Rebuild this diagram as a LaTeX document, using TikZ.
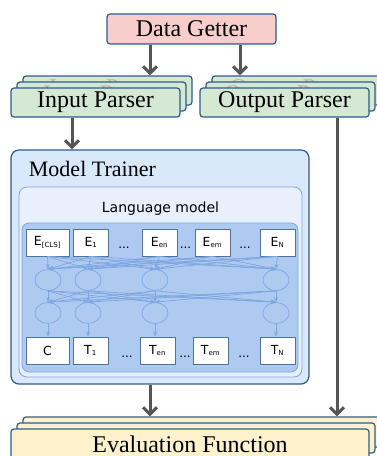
\documentclass[tikz,border=0pt]{standalone}
\usepackage{fontspec}
\setmainfont{Liberation Serif}
\setsansfont{DejaVu Sans}
\usepackage{tikz}
\usetikzlibrary{shapes.geometric,arrows.meta}
\definecolor{edgeblue}{HTML}{2E5C8A}
\definecolor{getterpink}{HTML}{F8CECC}
\definecolor{parsergreen}{HTML}{D5E8D4}
\definecolor{evalyellow}{HTML}{FFF2CC}
\definecolor{trainerblue}{HTML}{DAE8FC}
\definecolor{lmblue}{HTML}{E8F0FD}
\definecolor{innerblue}{HTML}{AFCAF0}
\definecolor{unitblue}{HTML}{7EA6E0}
\definecolor{arrowgray}{HTML}{555555}
\tikzstyle{block} = [rectangle, rounded corners=3pt, draw=edgeblue, line width=1.2pt, minimum height=29pt, inner sep=0pt, font=\fontsize{24}{26}\selectfont]
\tikzstyle{parser} = [block, fill=parsergreen, minimum width=169pt]
\tikzstyle{evalbox} = [block, fill=evalyellow, minimum width=358pt, minimum height=30pt]
\tikzstyle{shadowpage} = [text=black!30]
\tikzstyle{token} = [rectangle, draw=edgeblue!85, fill=white, line width=0.8pt, minimum width=35pt, minimum height=27pt, inner sep=0pt, font=\sffamily\fontsize{12.5}{14}\selectfont]
\tikzstyle{unit} = [ellipse, draw=unitblue, fill=innerblue, line width=0.7pt, minimum width=26pt, minimum height=21pt, inner sep=0pt]
\tikzstyle{dots} = [font=\sffamily\fontsize{12}{14}\selectfont]
\tikzstyle{bigarrow} = [draw=arrowgray, line width=3pt, -{Straight Barb[length=7pt,width=14pt]}]
\tikzstyle{link} = [draw=unitblue, line width=0.7pt, -{Stealth[length=5pt,width=4pt]}]

\begin{document}
\begin{tikzpicture}[x=1pt,y=-1pt]
  \useasboundingbox (0,0) rectangle (377,456);

  \node[block, fill=getterpink, minimum width=169pt, minimum height=30pt] (getter) at (191.5,29) {Data Getter};

  % parsers, back pages first
  \node[parser, shadowpage] (input_b2) at (107.5,90.5) {Input Parser};
  \node[parser, shadowpage] (input_b1) at (101.5,96.5) {Input Parser};
  \node[parser] (input) at (95.5,102.5) {Input Parser};
  \node[parser, shadowpage] (output_b2) at (296.5,90.5) {Output Parser};
  \node[parser, shadowpage] (output_b1) at (290.5,96.5) {Output Parser};
  \node[parser] (output) at (284.5,102.5) {Output Parser};

  % trainer and language model
  \node[rectangle, rounded corners=8pt, draw=edgeblue, fill=trainerblue, line width=1.2pt, minimum width=298pt, minimum height=234pt] (trainer) at (160,267) {};
  \node[anchor=west, font=\fontsize{22}{24}\selectfont] (trainer_label) at ([xshift=15pt,yshift=-20pt]trainer.north west) {Model Trainer};
  \node[rectangle, rounded corners=8pt, draw=unitblue, fill=lmblue, line width=0.8pt, minimum width=283pt, minimum height=190pt] (lm) at (160.5,282) {};
  \node[font=\sffamily\fontsize{14}{16}\selectfont] (lm_label) at (160.5,209) {Language model};
  \node[rectangle, rounded corners=7pt, draw=unitblue, fill=innerblue, line width=0.8pt, minimum width=276pt, minimum height=149pt] (bert) at (160,297.5) {};

  % input embeddings
  \node[token, minimum width=43pt] (E_cls) at (47.5,242.5) {E\textsubscript{\fontsize{7}{8}\selectfont[CLS]}};
  \node[token] (E_1) at (91,242.5) {E\textsubscript{\fontsize{7}{8}\selectfont 1}};
  \node[token] (E_en) at (159.5,242.5) {E\textsubscript{\fontsize{7}{8}\selectfont en}};
  \node[token] (E_em) at (212.5,242.5) {E\textsubscript{\fontsize{7}{8}\selectfont em}};
  \node[token] (E_N) at (277.5,242.5) {E\textsubscript{\fontsize{7}{8}\selectfont N}};
  \node[dots] (dE_1) at (124,248) {...};
  \node[dots] (dE_2) at (185.5,248) {...};
  \node[dots] (dE_3) at (245,248) {...};

  % hidden units
  \node[unit] (h1_a) at (48,280) {};
  \node[unit] (h1_b) at (88,280) {};
  \node[unit] (h1_c) at (155,280) {};
  \node[unit] (h1_d) at (276,280) {};
  \node[unit] (h2_a) at (48,313) {};
  \node[unit] (h2_b) at (88,313) {};
  \node[unit] (h2_c) at (155,313) {};
  \node[unit] (h2_d) at (276,313) {};

  % outputs
  \node[token, minimum width=43pt] (C) at (47.5,350.5) {C};
  \node[token] (T_1) at (90.5,350.5) {T\textsubscript{\fontsize{7}{8}\selectfont 1}};
  \node[token] (T_en) at (157.5,350.5) {T\textsubscript{\fontsize{7}{8}\selectfont en}};
  \node[token] (T_em) at (210.5,350.5) {T\textsubscript{\fontsize{7}{8}\selectfont em}};
  \node[token] (T_N) at (277.5,350.5) {T\textsubscript{\fontsize{7}{8}\selectfont N}};
  \node[dots] (dT_1) at (127,357) {...};
  \node[dots] (dT_2) at (185,357) {...};
  \node[dots] (dT_3) at (244,357) {...};

  \foreach \e in {E_cls,E_1,E_en,E_em,E_N}
    \foreach \h in {h1_a,h1_b,h1_c,h1_d}
      \draw[link] (\e.south) -- (\h.north);
  \foreach \g in {h1_a,h1_b,h1_c,h1_d}
    \foreach \h in {h2_a,h2_b,h2_c,h2_d}
      \draw[link] (\g.south) -- (\h.north);
  \draw[link] (h2_a.south) -- (h2_a.south |- C.north);
  \draw[link] (h2_b.south) -- (h2_b.south |- T_1.north);
  \draw[link] (h2_c.south) -- (h2_c.south |- T_en.north);
  \draw[link] (h2_d.south) -- (h2_d.south |- T_N.north);

  % evaluation, back pages first
  \node[evalbox, shadowpage] (eval_b2) at (202,432) {Evaluation Function};
  \node[evalbox, shadowpage] (eval_b1) at (196,438) {Evaluation Function};
  \node[evalbox] (eval) at (190,444) {Evaluation Function};

  \draw[bigarrow] ([xshift=-41.5pt]getter.south) -- ([xshift=-41.5pt]getter.south |- input_b2.north);
  \draw[bigarrow] ([xshift=48.5pt]getter.south) -- ([xshift=48.5pt]getter.south |- output_b2.north);
  \draw[bigarrow] ([xshift=-23.5pt]input.south) -- ([xshift=-23.5pt]input.south |- trainer.north);
  \draw[bigarrow] ([xshift=-10pt]trainer.south) -- ([xshift=-10pt]trainer.south |- eval_b2.north);
  \draw[bigarrow] ([xshift=52.5pt]output.south) -- ([xshift=52.5pt]output.south |- eval_b2.north);
\end{tikzpicture}
\end{document}
